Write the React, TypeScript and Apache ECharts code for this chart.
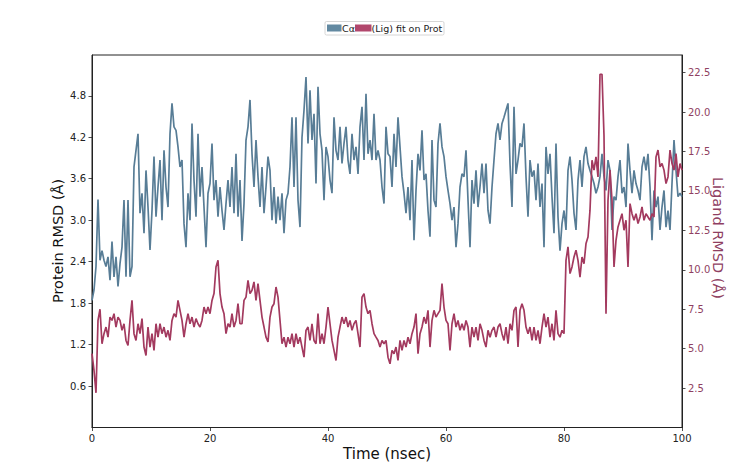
import React, { useEffect, useRef } from "react";
import * as echarts from "echarts";

const protein = [
  1.84, 1.99, 2.33, 3.3, 2.42, 2.56, 2.42, 2.33, 2.47, 2.13,
  2.69, 2.18, 2.47, 2.04, 2.37, 2.61, 3.29, 2.18, 3.29, 2.18,
  2.33, 3.77, 4.01, 4.25, 3.10, 3.39, 2.81, 3.72, 3.19, 2.57,
  3.14, 3.92, 3.05, 3.48, 3.87, 3.00, 4.01, 3.48, 3.19, 4.25,
  4.69, 4.35, 4.30, 4.06, 3.77, 3.87, 2.95, 2.61, 3.39, 3.00,
  4.40, 3.58, 3.05, 4.25, 3.34, 3.77, 3.19, 2.61, 3.39, 3.53,
  4.11, 3.29, 3.58, 3.05, 3.48, 3.14, 2.86, 3.24, 3.58, 3.19,
  3.77, 3.10, 3.96, 3.05, 3.58,
  2.7, 3.24, 4.16, 4.35, 4.74, 3.96, 3.48, 4.16, 3.63, 3.19,
  3.77, 3.10, 3.48, 3.92, 3.72, 3.00, 3.48, 2.95, 3.34, 3.00,
  3.39, 2.81, 3.29, 3.39, 3.77, 4.49, 3.48, 4.49, 3.29, 2.90,
  4.20, 4.59, 5.07, 4.11, 4.88, 4.16, 4.54, 3.53, 4.93, 4.25,
  4.01, 3.29, 4.06, 3.92, 3.58, 3.39, 4.49, 4.01, 3.87, 4.35,
  3.82, 4.11, 4.35, 3.87, 3.67, 4.25, 3.87, 4.06, 3.67, 4.35,
  4.64, 3.87, 4.83, 3.96, 4.16, 3.87, 4.54, 3.87, 4.01, 3.87,
  3.48, 3.24,
  4.35, 3.96, 3.92, 3.48, 4.25, 3.77, 4.49, 4.06, 3.63, 3.39,
  3.10, 3.48, 3.00, 3.87, 2.71, 3.43, 3.96, 3.72, 4.30, 3.58,
  3.67, 3.14, 2.76, 4.16, 3.29, 3.19, 4.11, 4.40, 4.06, 3.92,
  3.63, 3.43, 3.24, 3.00, 3.19, 2.61, 2.95, 3.48, 3.67, 3.63,
  4.01, 3.29, 2.61, 3.58, 3.24, 3.72, 3.19, 3.48, 3.82, 3.39,
  3.82, 3.14, 2.95, 3.48, 3.87, 4.25, 4.40, 4.16, 4.40, 4.49,
  4.59, 4.69, 3.82, 3.19, 4.64, 3.67, 3.87, 4.11, 4.06, 4.40,
  3.63, 3.05, 3.87,
  3.63, 3.72, 3.29, 3.82, 3.19, 3.53, 2.61, 4.06, 3.67, 3.96,
  3.34, 2.81, 4.11, 3.05, 2.56, 2.95, 3.14, 2.86, 3.72, 3.92,
  3.58, 3.10, 2.86, 3.58, 3.87, 3.48, 3.92, 4.06, 3.82, 3.72,
  3.63, 3.53, 3.39, 3.48, 3.63, 3.96, 3.63, 3.43, 3.87, 3.72,
  2.86, 3.34, 3.29, 3.63, 3.87, 3.39, 3.48, 3.19, 4.11, 3.72,
  3.39, 3.72, 3.53, 3.43, 3.29, 3.77, 3.92, 3.72, 3.96, 3.48,
  2.71, 3.43, 3.19, 3.34, 2.86, 3.19, 3.43, 2.90, 3.14, 2.86,
  3.53, 4.16, 3.72, 3.34, 3.39, 3.34,
];

const ligand = [
  4.68, 3.62, 2.2, 6.79, 7.5, 5.31, 5.95, 6.37, 5.73, 7.00,
  6.79, 7.22, 6.37, 7.00, 6.79, 6.16, 6.58, 5.52, 5.20, 6.79,
  8.06, 5.95, 5.52, 6.58, 5.95, 6.90, 5.10, 4.57, 6.37, 5.10,
  5.95, 4.89, 6.58, 5.73, 6.58, 5.95, 6.37, 5.73, 6.16, 5.52,
  6.79, 7.22, 7.00, 8.06, 7.43, 6.79, 5.73, 6.58, 7.22, 6.58,
  7.00, 6.37, 6.90, 6.58, 6.37, 6.79, 7.64, 7.22, 7.64, 7.22,
  8.06, 8.49, 10.18, 10.60, 8.49, 7.64, 7.22, 5.95, 6.58, 6.37,
  7.22, 6.37, 6.79, 7.85, 6.58,
  6.58, 8.06, 8.27, 9.33, 8.49, 8.70, 9.23, 8.06, 9.12, 8.06,
  7.00, 6.37, 5.73, 5.42, 7.00, 7.64, 7.85, 8.91, 8.27, 6.79,
  5.31, 5.73, 5.10, 5.73, 5.31, 5.95, 5.10, 5.95, 5.31, 5.73,
  5.10, 4.46, 6.16, 6.37, 5.52, 6.58, 5.52, 5.31, 7.22, 5.31,
  5.95, 5.31, 6.37, 7.64, 6.58, 5.52, 4.89, 4.25, 5.73, 6.37,
  7.00, 6.58, 7.00, 6.37, 6.79, 6.16, 6.58, 6.79, 5.95, 5.10,
  8.27, 8.49, 7.64, 7.22, 7.43, 6.58, 5.95, 5.73, 5.52, 5.10,
  5.52, 5.31,
  5.52, 4.46, 4.04, 4.89, 4.68, 5.10, 4.25, 5.52, 4.89, 5.52,
  5.10, 5.73, 5.31, 5.95, 6.37, 7.22, 4.68, 5.95, 6.37, 7.00,
  6.58, 7.43, 5.10, 6.79, 7.43, 7.00, 7.22, 7.43, 9.12, 7.64,
  6.79, 6.58, 4.89, 6.58, 7.22, 6.37, 6.79, 6.16, 6.58, 6.16,
  6.79, 6.37, 5.10, 6.37, 5.73, 6.37, 5.52, 6.58, 6.16, 5.52,
  5.10, 6.16, 5.73, 6.16, 6.37, 5.73, 6.37, 6.58, 5.95, 5.52,
  6.37, 5.31, 6.58, 6.16, 7.43, 7.64, 5.10, 7.43, 7.85, 7.43,
  6.37, 5.95, 6.37,
  5.52, 6.37, 5.52, 6.16, 5.31, 6.37, 7.22, 6.37, 7.00, 5.73,
  6.58, 5.52, 7.43, 5.95, 5.73, 6.16, 5.95, 10.60, 11.45, 9.76,
  10.18, 10.81, 11.24, 10.60, 9.54, 10.81, 10.39, 11.66, 12.08, 13.78,
  16.95, 16.32, 17.16, 15.89, 22.4, 22.4, 18.5, 7.22, 14.41, 16.32,
  14.41, 10.18, 11.87, 12.72, 13.14, 13.56, 12.51, 13.14, 10.18, 14.20,
  13.56, 13.14, 13.56, 12.93, 13.35, 13.99, 13.14, 13.56, 13.35, 13.14,
  13.56, 13.35, 17.16, 17.59, 16.53, 16.74, 16.32, 15.47, 15.89, 17.59,
  16.74, 16.32, 17.37, 15.89, 16.74, 16.32,
];

const timeStart = 0;
const timeEnd = 100;
const xTicks = [0, 20, 40, 60, 80, 100];
const leftTicks = [0.6, 1.2, 1.8, 2.4, 3.0, 3.6, 4.2, 4.8];
const rightTicks = [2.5, 5.0, 7.5, 10.0, 12.5, 15.0, 17.5, 20.0, 22.5];
const legendNames = ["C\u03b1", "(Lig) fit on Prot"];

const BLUE = "#587d96";
const RED = "#a33a5f";
const RIGHT_TXT = "#8f3f62";
const FONT = "DejaVu Sans";

export default function App() {
  const ref = useRef<HTMLDivElement>(null);
  useEffect(() => {
    if (!ref.current) return;
    const chart = echarts.init(ref.current, null, { renderer: "svg" });
    const n = protein.length;
    const times = protein.map((_, i) => timeStart + (i * (timeEnd - timeStart)) / (n - 1));
    const blueData = protein.map((v, i) => [times[i], v]);
    const redData = ligand.map((v, i) => [times[i], v]);

    chart.setOption({
      animation: false,
      textStyle: { fontFamily: FONT },
      grid: {
        left: 92,
        top: 55,
        width: 590,
        height: 372.5,
        show: true,
        borderColor: "#222",
        borderWidth: 1,
        containLabel: false,
      },
      xAxis: {
        type: "value",
        min: timeStart,
        max: timeEnd,
        interval: 20,
        axisLine: { show: true, lineStyle: { color: "#222", width: 1 } },
        axisTick: { show: true, length: 3.5, lineStyle: { color: "#222", width: 0.8 }, customValues: xTicks },
        axisLabel: { color: "#222", fontSize: 10, margin: 6, fontFamily: FONT, customValues: xTicks },
        splitLine: { show: false },
      },
      yAxis: [
        {
          type: "value",
          position: "left",
          min: 0,
          max: 5.39,
          axisLine: { show: true, lineStyle: { color: "#222", width: 1 } },
          axisTick: { show: true, length: 3.5, lineStyle: { color: "#222", width: 0.8 }, customValues: leftTicks },
          axisLabel: {
            color: "#222",
            fontSize: 10,
            margin: 6,
            fontFamily: FONT,
            customValues: leftTicks,
            formatter: (v: number) => v.toFixed(1),
          },
          splitLine: { show: false },
        },
        {
          type: "value",
          position: "right",
          min: 0,
          max: 23.62,
          axisLine: { show: true, lineStyle: { color: "#222", width: 1 } },
          axisTick: { show: true, length: 3.5, lineStyle: { color: "#222", width: 0.8 }, customValues: rightTicks },
          axisLabel: {
            color: RIGHT_TXT,
            fontSize: 10,
            margin: 6,
            fontFamily: FONT,
            customValues: rightTicks,
            formatter: (v: number) => v.toFixed(1),
          },
          splitLine: { show: false },
        },
      ],
      series: [
        {
          name: legendNames[0],
          type: "line",
          yAxisIndex: 0,
          data: blueData,
          showSymbol: false,
          symbol: "none",
          lineStyle: { color: BLUE, width: 1.7 },
          itemStyle: { color: BLUE },
        },
        {
          name: legendNames[1],
          type: "line",
          yAxisIndex: 1,
          data: redData,
          showSymbol: false,
          symbol: "none",
          lineStyle: { color: RED, width: 1.7 },
          itemStyle: { color: RED },
        },
      ],
      graphic: [
        {
          type: "rect",
          shape: { x: 325, y: 21.5, width: 119, height: 13.5, r: 1.5 },
          style: { fill: "#fff", stroke: "#cccccc", lineWidth: 0.8 },
          z: 10,
        },
        {
          type: "rect",
          shape: { x: 327, y: 24.5, width: 14.5, height: 7 },
          style: { fill: "#6289a1" },
          z: 11,
        },
        {
          type: "text",
          x: 342,
          y: 28.3,
          style: { text: legendNames[0], fontSize: 9.5, fontFamily: FONT, fill: "#222", textVerticalAlign: "middle", textAlign: "left" },
          z: 11,
        },
        {
          type: "rect",
          shape: { x: 355, y: 24.5, width: 16.5, height: 7 },
          style: { fill: "#b1476c" },
          z: 12,
        },
        {
          type: "text",
          x: 371.5,
          y: 28.3,
          style: { text: legendNames[1], fontSize: 9.5, fontFamily: FONT, fill: "#222", textVerticalAlign: "middle", textAlign: "left" },
          z: 11,
        },
        {
          type: "text",
          x: 57.5,
          y: 241,
          rotation: Math.PI / 2,
          style: { text: "Protein RMSD (\u00c5)", fontSize: 14.5, fontFamily: FONT, fill: "#111", textAlign: "center", textVerticalAlign: "middle" },
        },
        {
          type: "text",
          x: 717.5,
          y: 238,
          rotation: -Math.PI / 2,
          style: { text: "Ligand RMSD (\u00c5)", fontSize: 14.5, fontFamily: FONT, fill: RIGHT_TXT, textAlign: "center", textVerticalAlign: "middle" },
        },
        {
          type: "text",
          x: 387,
          y: 454,
          style: { text: "Time (nsec)", fontSize: 15, fontFamily: FONT, fill: "#111", textAlign: "center", textVerticalAlign: "middle" },
        },
      ],
    });
    return () => chart.dispose();
  }, []);
  return <div ref={ref} style={{ width: 750, height: 470, margin: -8 }} />;
}
